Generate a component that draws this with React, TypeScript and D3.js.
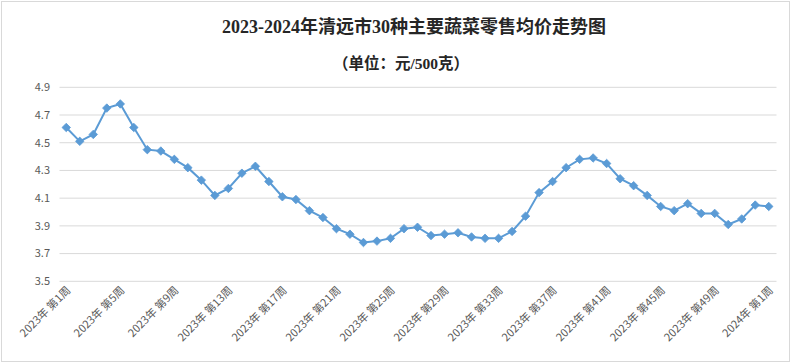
import React from "react";
import * as d3 from "d3";

const weeks: string[] = [
  ...Array.from({ length: 52 }, (_, i) => `2023年 第${i + 1}周`),
  "2024年 第1周",
];
const prices: number[] = [
  4.61, 4.51, 4.56, 4.75, 4.78, 4.61, 4.45, 4.44, 4.38, 4.32,
  4.23, 4.12, 4.17, 4.28, 4.33, 4.22, 4.11, 4.09, 4.01, 3.96,
  3.88, 3.84, 3.78, 3.79, 3.81, 3.88, 3.89, 3.83, 3.84, 3.85,
  3.82, 3.81, 3.81, 3.86, 3.97, 4.14, 4.22, 4.32, 4.38, 4.39,
  4.35, 4.24, 4.19, 4.12, 4.04, 4.01, 4.06, 3.99, 3.99, 3.91,
  3.95, 4.05, 4.04,
];
const yTicks: number[] = [3.5, 3.7, 3.9, 4.1, 4.3, 4.5, 4.7, 4.9];

const W = 793;
const H = 364;
const left = 59.5;
const right = 775.5;
const top = 87.3;
const bottom = 281.3;

export default function App() {
  const x = d3.scaleBand<string>().domain(weeks).range([left, right]);
  const y = d3.scaleLinear().domain([3.5, 4.9]).range([bottom, top]);
  const cx = (w: string) => (x(w) ?? 0) + x.bandwidth() / 2;
  const data = weeks.map((w, i) => ({ w, v: prices[i] }));
  const line = d3
    .line<{ w: string; v: number }>()
    .x((d) => cx(d.w))
    .y((d) => y(d.v));
  const diamond = d3.symbol().type(d3.symbolDiamond2).size(46)() || "";
  const labelFont = "'Microsoft YaHei', 'Noto Sans CJK SC', 'Noto Sans', sans-serif";

  return (
    <svg
      width={W}
      height={H}
      style={{ position: "absolute", left: 0, top: 0, background: "#fff" }}
    >
      <rect x={1.5} y={1.5} width={788} height={360} fill="#fff" stroke="#d9d9d9" />
      <text
        x={414}
        y={33}
        textAnchor="middle"
        fontFamily="'Liberation Serif', 'Noto Sans CJK SC', serif"
        fontWeight="bold"
        fontSize={18}
        fill="#262626"
      >
        2023-2024年清远市30种主要蔬菜零售均价走势图
      </text>
      <text
        x={401}
        y={69}
        textAnchor="middle"
        fontFamily="'Liberation Serif', 'Noto Sans CJK SC', serif"
        fontWeight="bold"
        fontSize={15.5}
        fill="#262626"
      >
        （单位：元/500克）
      </text>
      {yTicks.map((t) => (
        <g key={t}>
          <line x1={left} x2={right + 1} y1={y(t)} y2={y(t)} stroke="#d9d9d9" strokeWidth={1} />
          <text
            x={50}
            y={y(t)}
            dy="0.35em"
            textAnchor="end"
            fontFamily={labelFont}
            fontSize={11}
            fill="#595959"
          >
            {t.toFixed(1)}
          </text>
        </g>
      ))}
      <path d={line(data) || ""} fill="none" stroke="#5b9bd5" strokeWidth={2} />
      {data.map((d) => (
        <path
          key={d.w}
          d={diamond}
          transform={`translate(${cx(d.w)},${y(d.v)})`}
          fill="#5b9bd5"
          stroke="#5b9bd5"
          strokeWidth={0.8}
        />
      ))}
      {weeks.map((w, i) =>
        i % 4 === 0 ? (
          <text
            key={w}
            transform={`translate(${cx(w) + 5},${291}) rotate(-45)`}
            textAnchor="end"
            fontFamily={labelFont}
            fontSize={11}
            fill="#595959"
          >
            {w}
          </text>
        ) : null
      )}
    </svg>
  );
}
